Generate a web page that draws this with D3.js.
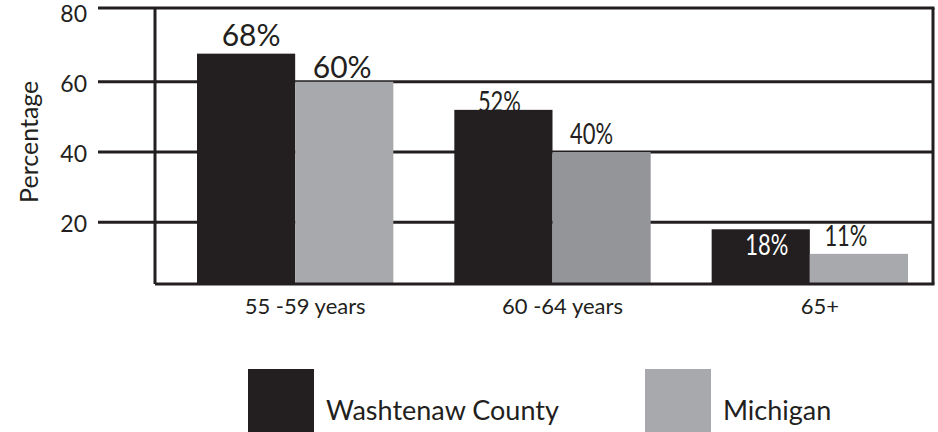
<!DOCTYPE html>
<html>
<head>
<meta charset="utf-8">
<script src="https://cdn.jsdelivr.net/npm/d3@7"></script>
<style>
  html, body { margin: 0; padding: 0; background: #fff; }
  svg { display: block; font-family: Lato, "Open Sans", sans-serif; }
</style>
</head>
<body>
<div id="chart"></div>
<script>
const categories = ['55 -59 years', '60 -64 years', '65+'];
const seriesNames = ['Washtenaw County', 'Michigan'];
const washtenaw = [68, 52, 18];
const michigan = [60, 40, 11];
const yTicks = [20, 40, 60, 80];

const width = 938, height = 432;
const ink = '#231f20';
const greys = ['#a7a9ac', '#939598', '#a7a9ac'];

const svg = d3.select('#chart').append('svg')
    .attr('width', width)
    .attr('height', height);

const y = d3.scaleLinear().domain([0, 80]).range([292.5, 11.5]);
const x0 = d3.scaleBand().domain(categories).range([197, 908]).paddingInner(0.237);
const x1 = d3.scaleBand().domain(seriesNames).range([0, x0.bandwidth()]);

const frameTop = y(81), frameBottom = y(2.4);
const frameLeft = 155, frameRight = 933, tickStart = 98;

// gridlines (tick lines run across the whole plot)
svg.append('g').selectAll('line')
    .data(yTicks.filter(d => d < 80))
    .join('line')
    .attr('x1', tickStart).attr('x2', frameRight)
    .attr('y1', d => y(d)).attr('y2', d => y(d))
    .attr('stroke', ink).attr('stroke-width', 3);

const rows = categories.map((c, i) => ({ cat: c, i, values: [
    { key: seriesNames[0], v: washtenaw[i], fill: ink },
    { key: seriesNames[1], v: michigan[i], fill: greys[i] }
]}));

const groups = svg.append('g').selectAll('g')
    .data(rows)
    .join('g')
    .attr('transform', d => `translate(${x0(d.cat)},0)`);

groups.selectAll('rect')
    .data(d => d.values)
    .join('rect')
    .attr('x', d => x1(d.key))
    .attr('width', x1.bandwidth())
    .attr('y', d => y(d.v))
    .attr('height', d => frameBottom - y(d.v))
    .attr('fill', d => d.fill);

// frame
const frame = svg.append('g').attr('stroke', ink).attr('stroke-width', 3).attr('fill', 'none');
frame.append('line').attr('x1', tickStart).attr('x2', frameRight + 1.5).attr('y1', frameTop).attr('y2', frameTop);
frame.append('line').attr('x1', frameLeft).attr('x2', frameRight + 1.5).attr('y1', frameBottom).attr('y2', frameBottom);
frame.append('line').attr('x1', frameLeft).attr('x2', frameLeft).attr('y1', frameTop).attr('y2', frameBottom);
frame.append('line').attr('x1', frameRight).attr('x2', frameRight).attr('y1', frameTop).attr('y2', frameBottom);

// value labels; nudges are per-label layout tweaks
const labelNudge = [
    [{ dx: 5, dy: -8, size: 30, condensed: false }, { dx: -2, dy: -4, size: 30, condensed: false }],
    [{ dx: -4, dy: 2, size: 29, condensed: true }, { dx: -10, dy: -8, size: 29, condensed: true }],
    [{ dx: 6, dy: 26, size: 29, condensed: true, color: '#fff' }, { dx: -13, dy: -8, size: 29, condensed: true }]
];

rows.forEach((r, i) => {
    r.values.forEach((d, j) => {
        const n = labelNudge[i][j];
        const cx = x0(r.cat) + x1(d.key) + x1.bandwidth() / 2 + n.dx;
        const t = svg.append('text')
            .attr('x', cx)
            .attr('y', y(d.v) + n.dy)
            .attr('text-anchor', 'middle')
            .attr('font-size', n.size)
            .attr('fill', n.color || ink)
            .text(d.v + '%');
        if (n.condensed) t.attr('textLength', 43).attr('lengthAdjust', 'spacingAndGlyphs');
    });
});

// y tick labels
svg.append('g').selectAll('text')
    .data(yTicks)
    .join('text')
    .attr('x', 87)
    .attr('y', d => y(d) + 2)
    .attr('dy', '0.35em')
    .attr('text-anchor', 'end')
    .attr('font-size', 23)
    .attr('fill', ink)
    .text(d => d);

svg.append('text')
    .attr('transform', `translate(38,${(y(80) + frameBottom) / 2 - 6}) rotate(-90)`)
    .attr('text-anchor', 'middle')
    .attr('font-size', 25)
    .attr('fill', ink)
    .text('Percentage');

// category labels
svg.append('g').selectAll('text')
    .data(categories)
    .join('text')
    .attr('x', d => x0(d) + x0.bandwidth() / 2 + 10)
    .attr('y', 314)
    .attr('text-anchor', 'middle')
    .attr('font-size', 22)
    .attr('fill', ink)
    .text(d => d);

// legend
const legendX = [248, 645];
const legendColors = [ink, greys[0]];
const legend = svg.append('g').selectAll('g')
    .data(seriesNames)
    .join('g')
    .attr('transform', (d, i) => `translate(${legendX[i]},369)`);

legend.append('rect')
    .attr('width', 66).attr('height', 63)
    .attr('fill', (d, i) => legendColors[i]);

legend.append('text')
    .attr('x', 78).attr('y', 51)
    .attr('font-size', 27)
    .attr('fill', ink)
    .text(d => d);
</script>
</body>
</html>
